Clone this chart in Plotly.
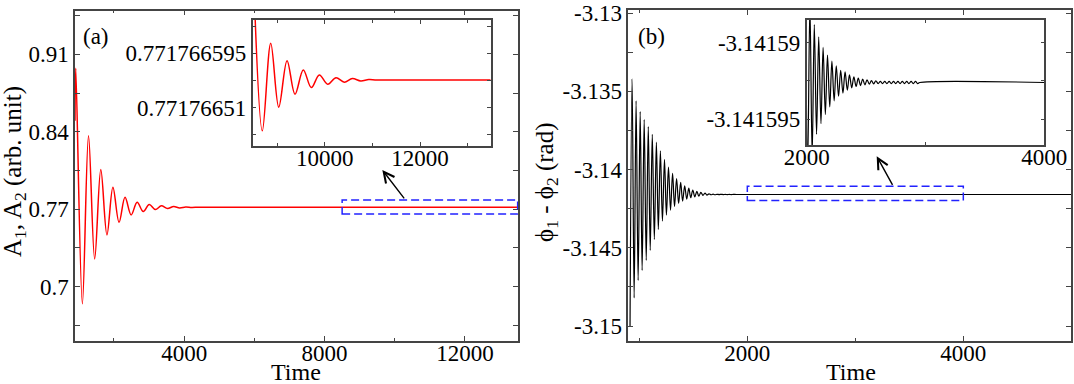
import plotly.graph_objects as go

# ---- panel (a): A1, A2 vs time (values read at the extrema of the ringing)
a_time = [890, 912, 1100, 1275, 1450, 1625, 1800, 1970, 2145, 2315, 2490, 2660,
          2835, 3005, 3180, 3350, 3525, 3700, 3870, 4045, 4215, 4400, 4600, 13510]
a_amp = [0.850, 0.8974, 0.6845, 0.8365, 0.7251, 0.8058, 0.7468, 0.7899, 0.7582,
         0.7808, 0.7649, 0.7763, 0.7679, 0.7742, 0.7697, 0.7731, 0.7706, 0.7725,
         0.7712, 0.7720, 0.7716, 0.7718, 0.7717666, 0.7717666]

# inset (a): zoom of the plateau
ai_time = [8515, 8692, 8868, 9036, 9210, 9377, 9551, 9719, 9887, 10063, 10237,
           10411, 10579, 10755, 10922, 11100, 13480]
ai_amp = [0.7717667032, 0.7717664735, 0.7717666105, 0.7717665105, 0.7717665834,
          0.7717665308, 0.7717665688, 0.7717665412, 0.7717665610, 0.7717665464,
          0.7717665568, 0.7717665496, 0.7717665553, 0.7717665516, 0.7717665537,
          0.7717665532, 0.7717665532]

# ---- panel (b): phase difference vs time
b_trough_t = [914, 952, 989, 1026, 1064, 1101, 1139, 1176, 1214, 1251, 1289, 1326,
              1364, 1401, 1439, 1476, 1514, 1551, 1589, 1626, 1664, 1701, 1739,
              1776, 1814, 1851]
b_trough_v = [-3.15001, -3.14820, -3.14709, -3.14645, -3.14581, -3.14517, -3.14447,
              -3.14383, -3.14329, -3.14291, -3.14259, -3.14236, -3.14217, -3.14202,
              -3.14189, -3.14180, -3.14174, -3.14170, -3.14165, -3.14163, -3.14161,
              -3.14161, -3.14160, -3.14160, -3.14160, -3.14160]
b_peak_t = [933, 970, 1008, 1045, 1083, 1120, 1158, 1195, 1233, 1270, 1308, 1345,
            1383, 1420, 1458, 1495, 1533, 1570, 1608, 1645, 1683, 1720, 1758, 1795,
            1833, 1870]
b_peak_v = [-3.13420, -3.13560, -3.13630, -3.13680, -3.13725, -3.13775, -3.13825,
            -3.13880, -3.13935, -3.13985, -3.14025, -3.14057, -3.14082, -3.14104,
            -3.14119, -3.14131, -3.14140, -3.14146, -3.14150, -3.14155, -3.14157,
            -3.14158, -3.14158, -3.14159, -3.14159, -3.14159]
b_tail_t = [1900, 5000]
b_tail_v = [-3.1415926, -3.1415926]

# inset (b)
bi_time = [1990, 2008, 2027, 2046, 2064, 2083, 2101, 2120, 2138, 2157, 2175, 2194,
           2212, 2231, 2249, 2268, 2286, 2305, 2323, 2342, 2360, 2379, 2397, 2416,
           2434, 2453, 2471, 2490, 2508, 2527, 2545, 2564, 2582, 2601,
           2620, 2638, 2657, 2675, 2694, 2712, 2731, 2749, 2768, 2786, 2805, 2823,
           2842, 2860, 2879, 2897, 2916, 2934, 2952, 4000]
bi_phase = [-3.1415870, -3.1415981, -3.1415875, -3.1415974, -3.1415888, -3.1415960,
            -3.1415896, -3.1415953, -3.1415903, -3.1415947, -3.1415908, -3.1415942,
            -3.1415912, -3.1415938, -3.1415915, -3.1415935, -3.1415918, -3.1415933,
            -3.1415919, -3.1415931, -3.1415921, -3.14159295, -3.14159223, -3.14159286,
            -3.14159231, -3.1415928, -3.14159238, -3.14159275, -3.14159242, -3.14159271,
            -3.14159247, -3.14159269, -3.14159249, -3.14159267,
            -3.14159253, -3.14159267, -3.14159253, -3.14159267, -3.14159253, -3.14159267,
            -3.14159253, -3.14159267, -3.14159253, -3.14159267, -3.14159253, -3.14159267,
            -3.14159253, -3.14159267, -3.14159253, -3.14159267, -3.14159253, -3.14159267,
            -3.1415926, -3.1415926]

# tick labels
a_xticks = [4000, 8000, 12000]
ai_xticks = [10000, 12000]
b_xticks = [2000, 4000]
bi_xticks = [2000, 4000]
a_yticks = [0.7, 0.77, 0.84, 0.91]
ai_yticks = [0.77176651, 0.771766595]
ai_ylabels = ["0.77176651", "0.771766595"]
b_yticks = [-3.15, -3.145, -3.14, -3.135, -3.13]
b_ylabels = ["-3.15", "-3.145", "-3.14", "-3.135", "-3.13"]
bi_yticks = [-3.141595, -3.14159]
bi_ylabels = ["-3.141595", "-3.14159"]

# merge peaks/troughs of (b) into one time series
b_pts = sorted(zip(b_trough_t + b_peak_t + b_tail_t, b_trough_v + b_peak_v + b_tail_v))
b_time = [p[0] for p in b_pts]
b_phase = [p[1] for p in b_pts]

W, H = 1074, 384
FONT = "Liberation Serif, Times New Roman, serif"
TICK_SIZE = 23
TITLE_SIZE = 25
LIFT = 4  # x tick labels sit a little closer to the axis than plotly's default


def dom_x(x0, x1):
    return [x0 / W, x1 / W]


def dom_y(top, bottom):
    return [1 - bottom / H, 1 - top / H]


def ax(domain, anchor, rng, tickvals, ticktext, minor, ticklen=5, labels=True):
    return dict(
        domain=domain, anchor=anchor, range=rng,
        tickmode="array", tickvals=tickvals, ticktext=ticktext,
        showticklabels=labels,
        ticks="inside", ticklen=ticklen, tickwidth=1, tickcolor="#444",
        minor=dict(tickmode="array", tickvals=minor, ticks="inside",
                   ticklen=3, tickcolor="#444"),
        showline=True, linecolor="#444", linewidth=1.5, mirror="allticks",
        showgrid=False, zeroline=False,
        tickfont=dict(family=FONT, size=TICK_SIZE, color="black"),
        automargin=False,
    )


def label_axis(base, bottom_px, rng, tickvals):
    # labels-only x axis laid over `base`, lifted a few pixels
    return dict(
        overlaying=base, anchor="free", position=1 - (bottom_px - LIFT) / H,
        range=rng, tickmode="array", tickvals=tickvals,
        ticktext=[str(v) for v in tickvals],
        showline=False, ticks="", showgrid=False, zeroline=False,
        tickfont=dict(family=FONT, size=TICK_SIZE, color="black"),
        automargin=False,
    )


fig = go.Figure()

fig.add_trace(go.Scatter(x=a_time, y=a_amp, mode="lines", line_shape="spline",
                         line=dict(color="#ff0000", width=1.5),
                         xaxis="x", yaxis="y", showlegend=False))
fig.add_trace(go.Scatter(x=ai_time, y=ai_amp, mode="lines", line_shape="spline",
                         line=dict(color="#ff0000", width=1.5),
                         xaxis="x2", yaxis="y2", showlegend=False))
fig.add_trace(go.Scatter(x=b_time, y=b_phase, mode="lines", line_shape="spline",
                         line=dict(color="black", width=1.2),
                         xaxis="x3", yaxis="y3", showlegend=False))
fig.add_trace(go.Scatter(x=bi_time, y=bi_phase, mode="lines", line_shape="spline",
                         line=dict(color="black", width=1.2),
                         xaxis="x4", yaxis="y4", showlegend=False))
# empty traces so the labels-only axes get a subplot to live in
for xa, ya in [("x5", "y"), ("x6", "y2"), ("x7", "y3"), ("x8", "y4")]:
    fig.add_trace(go.Scatter(x=[], y=[], xaxis=xa, yaxis=ya, showlegend=False,
                             hoverinfo="skip"))

a_xr, ai_xr, b_xr, bi_xr = [890, 13510], [8490, 13480], [898, 4997], [2000, 4000]

fig.update_layout(
    width=W, height=H,
    margin=dict(l=0, r=0, t=0, b=0),
    paper_bgcolor="white", plot_bgcolor="white",
    font=dict(family=FONT, size=TICK_SIZE, color="black"),
    # panel (a)
    xaxis=ax(dom_x(75, 518), "y", a_xr, a_xticks, None, [2000, 6000, 10000],
             labels=False),
    yaxis=ax(dom_y(10.7, 340.7), "x", [0.6512, 0.9494], a_yticks,
             [str(v) for v in a_yticks], [0.665, 0.735, 0.805, 0.875, 0.945]),
    # inset (a)
    xaxis2=ax(dom_x(252.7, 490.7), "y2", ai_xr, ai_xticks, None,
              [9000, 11000, 13000], ticklen=4, labels=False),
    yaxis2=ax(dom_y(20, 145.5), "x2", [0.7717664506, 0.771766647],
              ai_yticks, ai_ylabels,
              [0.7717664675, 0.7717665525, 0.7717666375], ticklen=4),
    # panel (b)
    xaxis3=ax(dom_x(628.3, 1071), "y3", b_xr, b_xticks, None, [1000, 3000],
              labels=False),
    yaxis3=ax(dom_y(10, 340.7), "x3", [-3.15094, -3.1298], b_yticks, b_ylabels,
              [-3.1475, -3.1425, -3.1375, -3.1325]),
    # inset (b)
    xaxis4=ax(dom_x(806.7, 1044.3), "y4", bi_xr, bi_xticks, None, [3000],
              ticklen=4, labels=False),
    yaxis4=ax(dom_y(20, 145), "x4", [-3.1415967, -3.1415885], bi_yticks, bi_ylabels,
              [-3.1415925], ticklen=4),
    # tick labels of the time axes
    xaxis5=label_axis("x", 340.7, a_xr, a_xticks),
    xaxis6=label_axis("x2", 145.5, ai_xr, ai_xticks),
    xaxis7=label_axis("x3", 340.7, b_xr, b_xticks),
    xaxis8=label_axis("x4", 145, bi_xr, bi_xticks),
)

# dashed zoom boxes
box = dict(type="rect", line=dict(color="#2222ff", width=1.5, dash="8px,4px"))
fig.add_shape(xref="x", yref="y", x0=8500, x1=13500, y0=0.7658, y1=0.7784, **box)
fig.add_shape(xref="x3", yref="y3", x0=2000, x1=4000, y0=-3.14198, y1=-3.14107, **box)

# arrows from boxes to insets
arrow = dict(text="", showarrow=True, arrowhead=5, arrowsize=1.5, arrowwidth=1.4,
             arrowcolor="black", standoff=0, startstandoff=0)
fig.add_annotation(xref="x", yref="y", axref="x", ayref="y",
                   x=9645, y=0.8055, ax=10301, ay=0.7784, **arrow)
fig.add_annotation(xref="x3", yref="y3", axref="x3", ayref="y3",
                   x=3198, y=-3.13915, ax=3352, ay=-3.14107, **arrow)


# axis titles and panel labels
def label(text, x, y, angle=0, size=TITLE_SIZE):
    fig.add_annotation(text=text, xref="paper", yref="paper", x=x / W, y=1 - y / H,
                       xanchor="center", yanchor="middle", showarrow=False,
                       textangle=angle, font=dict(family=FONT, size=size, color="black"))


label("Time", 296, 372, size=24)
label("Time", 851, 372, size=24)
label("A<sub>1</sub>, A<sub>2</sub> (arb. unit)", 14, 172, -90)
label("\u03d5<sub>1</sub> - \u03d5<sub>2</sub> (rad)", 546, 183, -90)
label("(a)", 96, 36, size=23)
label("(b)", 651, 37, size=23)

# the page body has a default 8px margin; drop it so the figure fills the window
fig.write_html("out.html", config={"displayModeBar": False},
               post_script="document.body.style.margin = '0';")
